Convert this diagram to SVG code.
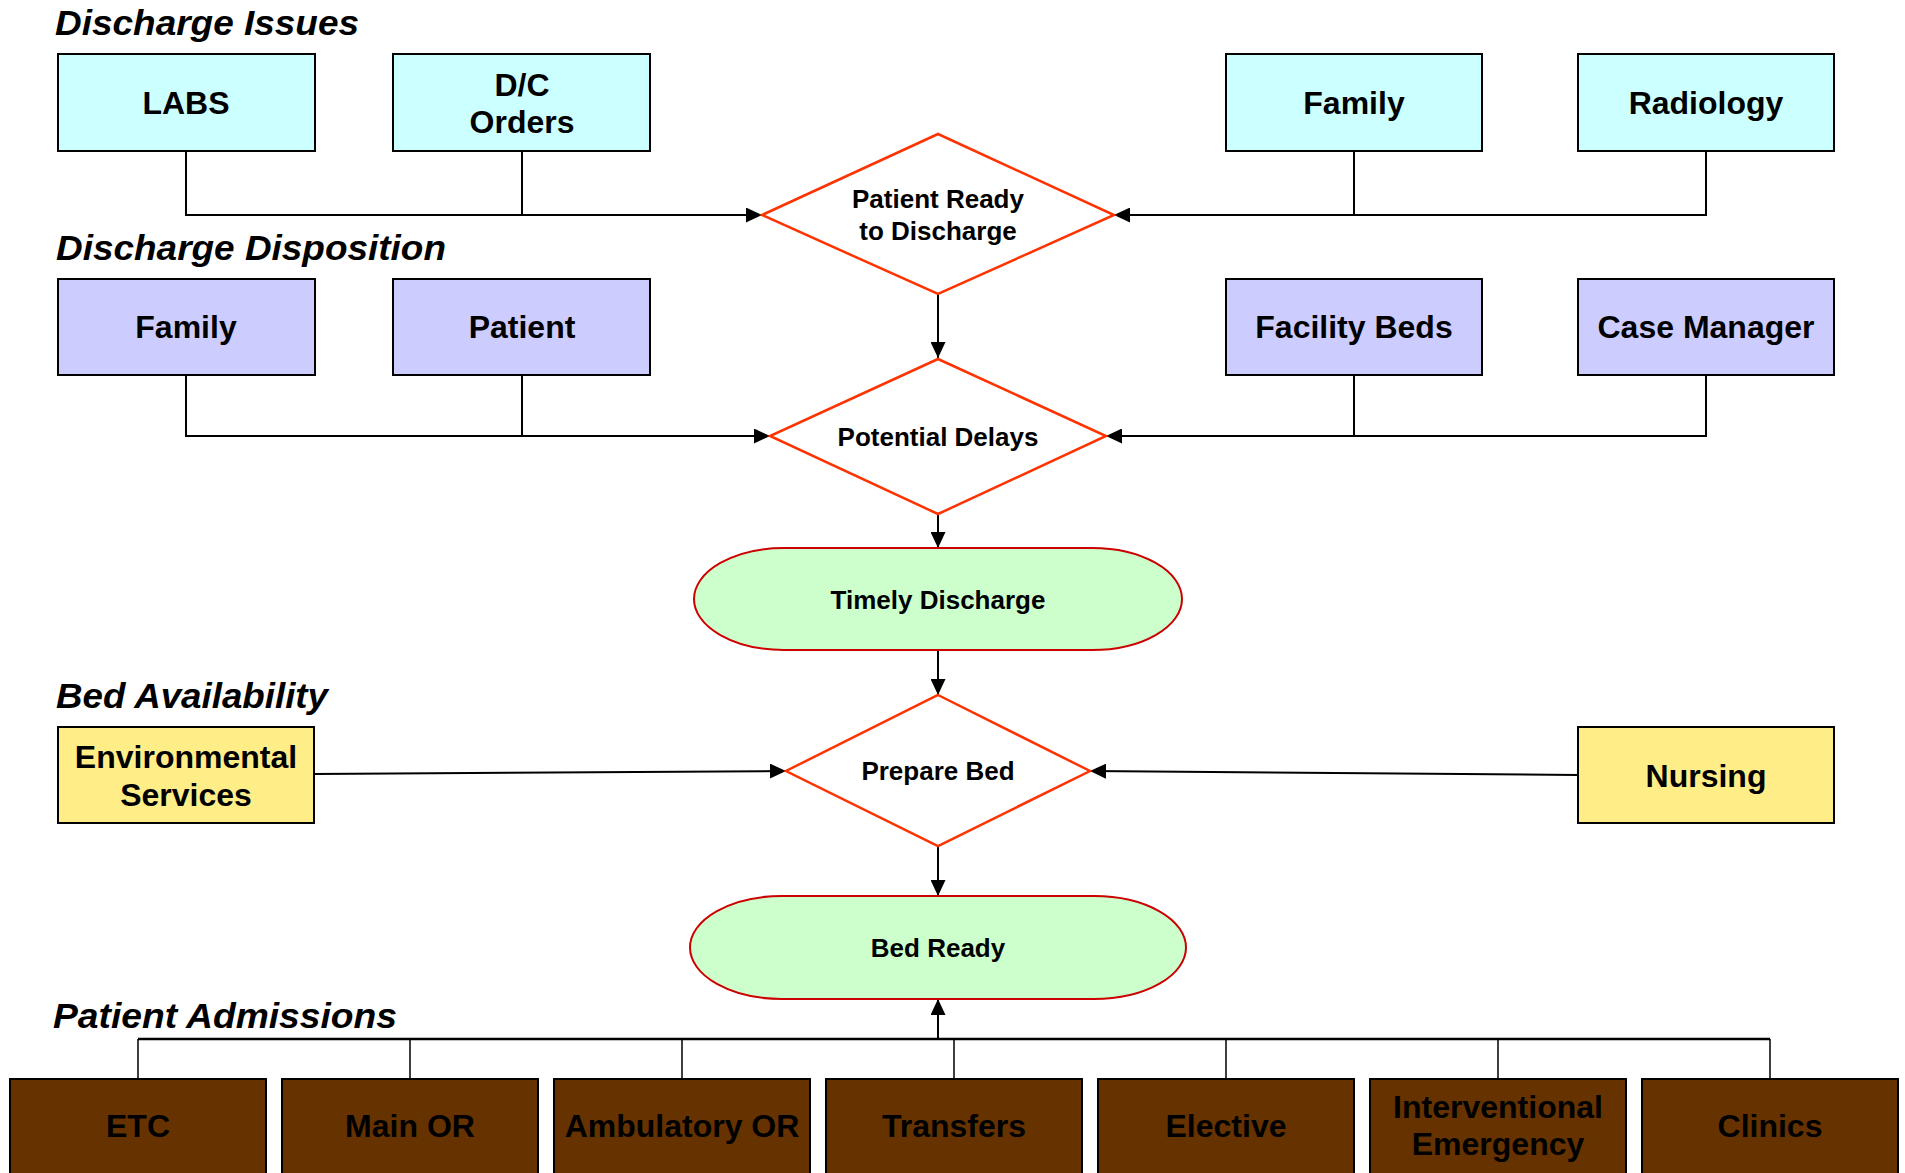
<svg xmlns="http://www.w3.org/2000/svg" width="1905" height="1173" viewBox="0 0 1905 1173">
<style>
.title{font-family:"Liberation Sans",Arial,sans-serif;font-weight:bold;font-style:italic;font-size:35px;fill:#000}
.bt{font-family:"Liberation Sans",Arial,sans-serif;font-weight:bold;font-size:32px;fill:#000;text-anchor:middle}
.dt{font-family:"Liberation Sans",Arial,sans-serif;font-weight:bold;font-size:26px;fill:#000;text-anchor:middle}
.issue{fill:#CCFFFF;stroke:#000;stroke-width:2}
.disp{fill:#CCCCFF;stroke:#000;stroke-width:2}
.bed{fill:#FFEE88;stroke:#000;stroke-width:2}
.adm{fill:#663300;stroke:#000;stroke-width:2}
.dia{fill:#fff;stroke:#FF3300;stroke-width:2.5}
.pill{fill:#CCFFCC;stroke:#CC0000;stroke-width:2}
.c{fill:none;stroke:#000;stroke-width:2}
.ct{fill:none;stroke:#000;stroke-width:1.5}
</style>
<defs>
<marker id="ah" markerUnits="userSpaceOnUse" markerWidth="16" markerHeight="15" refX="16" refY="7.5" orient="auto">
<path d="M0,0 L16,7.5 L0,15 z" fill="#000"/>
</marker>
</defs>
<rect width="1905" height="1173" fill="#fff"/>

<g id="titles">
<text class="title" x="55" y="35" textLength="304" lengthAdjust="spacingAndGlyphs">Discharge Issues</text>
<text class="title" x="56" y="260" textLength="390" lengthAdjust="spacingAndGlyphs">Discharge Disposition</text>
<text class="title" x="56" y="708" textLength="272" lengthAdjust="spacingAndGlyphs">Bed Availability</text>
<text class="title" x="53" y="1028" textLength="344" lengthAdjust="spacingAndGlyphs">Patient Admissions</text>
</g>

<g id="connectors">
<path class="c" d="M186,151 V215 H762" marker-end="url(#ah)"/>
<path class="c" d="M522,151 V215"/>
<path class="c" d="M1706,151 V215 H1114" marker-end="url(#ah)"/>
<path class="c" d="M1354,151 V215"/>
<path class="c" d="M938,294 V358" marker-end="url(#ah)"/>
<path class="c" d="M186,375 V436 H770" marker-end="url(#ah)"/>
<path class="c" d="M522,375 V436"/>
<path class="c" d="M1706,375 V436 H1106" marker-end="url(#ah)"/>
<path class="c" d="M1354,375 V436"/>
<path class="c" d="M938,514 V548" marker-end="url(#ah)"/>
<path class="c" d="M938,650 V695" marker-end="url(#ah)"/>
<path class="c" d="M314,774 L786,771" marker-end="url(#ah)"/>
<path class="c" d="M1578,775 L1090,771" marker-end="url(#ah)"/>
<path class="c" d="M938,846 V896" marker-end="url(#ah)"/>
<path class="c" d="M138,1039 H1770" style="stroke-width:2.5"/>
<path class="ct" d="M138,1079 V1039 M410,1079 V1039 M682,1079 V1039 M954,1079 V1039 M1226,1079 V1039 M1498,1079 V1039 M1770,1079 V1039"/>
<path class="c" d="M938,1039 V999" marker-end="url(#ah)"/>
</g>

<g id="labs"><rect class="issue" x="58" y="54" width="257" height="97"/><text class="bt" x="186" y="114">LABS</text></g>
<g id="dc-orders"><rect class="issue" x="393" y="54" width="257" height="97"/><text class="bt" x="522" y="96">D/C</text><text class="bt" x="522" y="133">Orders</text></g>
<g id="family-issue"><rect class="issue" x="1226" y="54" width="256" height="97"/><text class="bt" x="1354" y="114">Family</text></g>
<g id="radiology"><rect class="issue" x="1578" y="54" width="256" height="97"/><text class="bt" x="1706" y="114">Radiology</text></g>

<g id="patient-ready"><polygon class="dia" points="938,134 1114,215 938,294 762,215"/><text class="dt" x="938" y="208">Patient Ready</text><text class="dt" x="938" y="240">to Discharge</text></g>

<g id="family-disp"><rect class="disp" x="58" y="279" width="257" height="96"/><text class="bt" x="186" y="338">Family</text></g>
<g id="patient"><rect class="disp" x="393" y="279" width="257" height="96"/><text class="bt" x="522" y="338">Patient</text></g>
<g id="facility-beds"><rect class="disp" x="1226" y="279" width="256" height="96"/><text class="bt" x="1354" y="338">Facility Beds</text></g>
<g id="case-manager"><rect class="disp" x="1578" y="279" width="256" height="96"/><text class="bt" x="1706" y="338">Case Manager</text></g>

<g id="potential-delays"><polygon class="dia" points="938,359 1106,436 938,514 770,436"/><text class="dt" x="938" y="446">Potential Delays</text></g>

<g id="timely-discharge"><rect class="pill" x="694" y="548" width="488" height="102" rx="90" ry="51"/><text class="dt" x="938" y="609">Timely Discharge</text></g>

<g id="env-services"><rect class="bed" x="58" y="727" width="256" height="96"/><text class="bt" x="186" y="768">Environmental</text><text class="bt" x="186" y="806">Services</text></g>
<g id="nursing"><rect class="bed" x="1578" y="727" width="256" height="96"/><text class="bt" x="1706" y="787">Nursing</text></g>

<g id="prepare-bed"><polygon class="dia" points="938,695 1090,771 938,846 786,771"/><text class="dt" x="938" y="780">Prepare Bed</text></g>

<g id="bed-ready"><rect class="pill" x="690" y="896" width="496" height="103" rx="92" ry="51.5"/><text class="dt" x="938" y="957">Bed Ready</text></g>

<g id="etc"><rect class="adm" x="10" y="1079" width="256" height="100"/><text class="bt" x="138" y="1137">ETC</text></g>
<g id="main-or"><rect class="adm" x="282" y="1079" width="256" height="100"/><text class="bt" x="410" y="1137">Main OR</text></g>
<g id="ambulatory-or"><rect class="adm" x="554" y="1079" width="256" height="100"/><text class="bt" x="682" y="1137">Ambulatory OR</text></g>
<g id="transfers"><rect class="adm" x="826" y="1079" width="256" height="100"/><text class="bt" x="954" y="1137">Transfers</text></g>
<g id="elective"><rect class="adm" x="1098" y="1079" width="256" height="100"/><text class="bt" x="1226" y="1137">Elective</text></g>
<g id="interventional"><rect class="adm" x="1370" y="1079" width="256" height="100"/><text class="bt" x="1498" y="1118">Interventional</text><text class="bt" x="1498" y="1155">Emergency</text></g>
<g id="clinics"><rect class="adm" x="1642" y="1079" width="256" height="100"/><text class="bt" x="1770" y="1137">Clinics</text></g>
</svg>
